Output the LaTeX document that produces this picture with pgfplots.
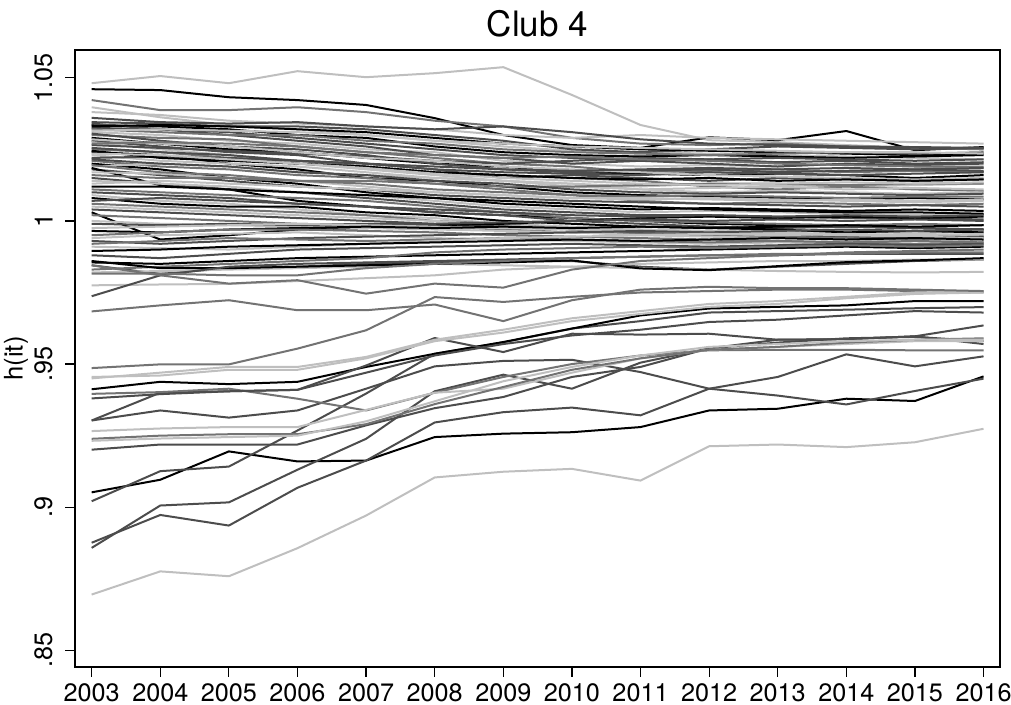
\documentclass[border=0pt]{standalone}
\usepackage{pgfplots}
\usepackage{pgfplotstable}
\pgfplotsset{compat=1.18}
\usepackage{fontspec}
\setmainfont{TeX Gyre Heros}
\definecolor{gdark}{gray}{0.30}
\definecolor{gmid}{gray}{0.45}
\definecolor{glight}{gray}{0.75}
\pgfplotsset{
  sk/.style={color=black},
  sd/.style={color=gdark},
  sm/.style={color=gmid},
  sl/.style={color=glight},
}
\pgfplotstableread[header=has colnames]{
2003 2004 2005 2006 2007 2008 2009 2010 2011 2012 2013 2014 2015 2016
1.0481 1.0506 1.0481 1.0523 1.0502 1.0516 1.0537 1.0440 1.0335 1.0282 1.0275 1.0265 1.0255 1.0250
1.0460 1.0457 1.0432 1.0422 1.0405 1.0359 1.0300 1.0265 1.0255 1.0292 1.0282 1.0314 1.0247 1.0258
1.0422 1.0387 1.0387 1.0397 1.0380 1.0350 1.0330 1.0290 1.0270 1.0265 1.0270 1.0260 1.0255 1.0250
1.0397 1.0362 1.0335 1.0320 1.0300 1.0280 1.0260 1.0245 1.0240 1.0235 1.0230 1.0225 1.0220 1.0215
1.0380 1.0370 1.0350 1.0340 1.0330 1.0320 1.0300 1.0290 1.0300 1.0290 1.0285 1.0280 1.0275 1.0270
1.0360 1.0345 1.0340 1.0345 1.0330 1.0320 1.0330 1.0310 1.0285 1.0270 1.0265 1.0260 1.0258 1.0255
1.0335 1.0330 1.0320 1.0300 1.0290 1.0260 1.0240 1.0230 1.0225 1.0230 1.0225 1.0220 1.0225 1.0230
1.0345 1.0340 1.0330 1.0330 1.0320 1.0300 1.0280 1.0250 1.0240 1.0250 1.0260 1.0255 1.0250 1.0255
1.0325 1.0320 1.0310 1.0290 1.0270 1.0250 1.0230 1.0220 1.0210 1.0215 1.0205 1.0210 1.0200 1.0205
1.0310 1.0300 1.0280 1.0270 1.0250 1.0240 1.0210 1.0200 1.0190 1.0195 1.0190 1.0200 1.0190 1.0185
1.0300 1.0290 1.0285 1.0260 1.0240 1.0220 1.0200 1.0190 1.0170 1.0175 1.0180 1.0170 1.0175 1.0170
1.0290 1.0270 1.0250 1.0240 1.0220 1.0200 1.0190 1.0170 1.0165 1.0160 1.0165 1.0160 1.0150 1.0160
1.0280 1.0260 1.0240 1.0230 1.0200 1.0180 1.0150 1.0160 1.0150 1.0140 1.0150 1.0145 1.0140 1.0145
1.0275 1.0250 1.0230 1.0200 1.0180 1.0160 1.0140 1.0130 1.0120 1.0130 1.0125 1.0120 1.0125 1.0130
1.0265 1.0255 1.0245 1.0235 1.0225 1.0210 1.0200 1.0210 1.0220 1.0215 1.0220 1.0215 1.0210 1.0215
1.0250 1.0240 1.0220 1.0210 1.0190 1.0170 1.0160 1.0150 1.0140 1.0120 1.0110 1.0120 1.0110 1.0105
1.0240 1.0230 1.0200 1.0180 1.0150 1.0140 1.0120 1.0100 1.0090 1.0085 1.0080 1.0075 1.0080 1.0075
1.0230 1.0210 1.0200 1.0190 1.0170 1.0150 1.0140 1.0130 1.0110 1.0100 1.0105 1.0100 1.0095 1.0100
1.0220 1.0225 1.0220 1.0210 1.0200 1.0180 1.0170 1.0165 1.0160 1.0170 1.0165 1.0160 1.0165 1.0170
1.0210 1.0190 1.0180 1.0160 1.0150 1.0130 1.0110 1.0090 1.0070 1.0060 1.0065 1.0060 1.0055 1.0060
1.0200 1.0180 1.0150 1.0130 1.0100 1.0080 1.0060 1.0050 1.0040 1.0045 1.0040 1.0035 1.0040 1.0035
1.0190 1.0200 1.0190 1.0170 1.0160 1.0150 1.0140 1.0120 1.0110 1.0115 1.0120 1.0110 1.0115 1.0110
1.0180 1.0160 1.0140 1.0120 1.0110 1.0090 1.0080 1.0070 1.0065 1.0060 1.0055 1.0050 1.0055 1.0050
1.0185 1.0125 1.0110 1.0070 1.0050 1.0030 1.0020 1.0010 1.0000 0.9990 0.9985 0.9980 0.9975 0.9970
1.0170 1.0165 1.0150 1.0140 1.0120 1.0100 1.0090 1.0080 1.0075 1.0080 1.0075 1.0070 1.0065 1.0070
1.0160 1.0150 1.0150 1.0140 1.0140 1.0130 1.0120 1.0120 1.0125 1.0130 1.0130 1.0125 1.0130 1.0130
1.0150 1.0130 1.0110 1.0100 1.0080 1.0060 1.0040 1.0030 1.0020 1.0020 1.0015 1.0010 1.0010 1.0005
1.0140 1.0130 1.0120 1.0100 1.0090 1.0070 1.0050 1.0040 1.0030 1.0035 1.0030 1.0025 1.0020 1.0025
1.0120 1.0120 1.0110 1.0100 1.0090 1.0080 1.0070 1.0060 1.0050 1.0040 1.0035 1.0030 1.0030 1.0025
1.0110 1.0100 1.0090 1.0080 1.0070 1.0050 1.0030 1.0010 1.0000 0.9995 0.9990 0.9985 0.9990 0.9985
1.0100 1.0090 1.0080 1.0060 1.0050 1.0030 1.0020 1.0000 0.9990 0.9980 0.9975 0.9980 0.9975 0.9970
1.0090 1.0070 1.0060 1.0040 1.0020 1.0010 0.9990 0.9980 0.9970 0.9965 0.9960 0.9965 0.9960 0.9965
1.0080 1.0060 1.0050 1.0050 1.0030 1.0020 1.0000 0.9990 0.9980 0.9975 0.9970 0.9960 0.9965 0.9960
1.0060 1.0050 1.0040 1.0030 1.0020 1.0000 0.9990 0.9970 0.9960 0.9955 0.9950 0.9945 0.9950 0.9945
1.0050 1.0040 1.0030 1.0020 1.0010 1.0000 0.9985 0.9975 0.9970 0.9965 0.9960 0.9950 0.9955 0.9950
1.0040 1.0030 1.0020 1.0010 1.0000 0.9990 0.9980 0.9970 0.9960 0.9955 0.9950 0.9945 0.9940 0.9945
1.0030 0.9935 0.9950 0.9970 0.9975 0.9985 0.9990 1.0000 1.0010 1.0015 1.0010 1.0015 1.0010 1.0015
1.0020 1.0010 1.0000 0.9990 0.9985 0.9980 0.9970 0.9960 0.9955 0.9950 0.9945 0.9940 0.9935 0.9940
1.0000 0.9990 0.9985 0.9980 0.9975 0.9970 0.9965 0.9960 0.9950 0.9945 0.9940 0.9935 0.9930 0.9935
0.9990 0.9985 0.9990 0.9985 0.9990 0.9990 0.9995 1.0000 1.0005 1.0000 1.0005 1.0000 1.0005 1.0000
0.9975 0.9980 0.9985 0.9990 0.9985 0.9980 0.9975 0.9970 0.9965 0.9960 0.9955 0.9950 0.9945 0.9940
0.9965 0.9960 0.9970 0.9975 0.9980 0.9975 0.9980 0.9975 0.9980 0.9975 0.9980 0.9985 0.9980 0.9985
0.9950 0.9960 0.9970 0.9970 0.9965 0.9960 0.9950 0.9945 0.9940 0.9935 0.9930 0.9925 0.9930 0.9925
0.9940 0.9950 0.9955 0.9960 0.9950 0.9940 0.9935 0.9930 0.9925 0.9920 0.9925 0.9920 0.9915 0.9920
0.9930 0.9920 0.9930 0.9940 0.9945 0.9950 0.9955 0.9960 0.9965 0.9960 0.9965 0.9970 0.9965 0.9970
0.9920 0.9930 0.9940 0.9935 0.9930 0.9935 0.9940 0.9935 0.9930 0.9925 0.9930 0.9925 0.9920 0.9925
0.9910 0.9905 0.9900 0.9910 0.9920 0.9930 0.9940 0.9945 0.9950 0.9955 0.9950 0.9955 0.9950 0.9955
0.9895 0.9900 0.9910 0.9915 0.9920 0.9925 0.9930 0.9935 0.9930 0.9935 0.9940 0.9935 0.9940 0.9935
0.9880 0.9870 0.9885 0.9900 0.9905 0.9910 0.9915 0.9920 0.9915 0.9910 0.9915 0.9920 0.9915 0.9920
0.9855 0.9850 0.9860 0.9870 0.9875 0.9880 0.9885 0.9890 0.9895 0.9900 0.9905 0.9910 0.9905 0.9910
0.9845 0.9815 0.9835 0.9840 0.9850 0.9855 0.9860 0.9860 0.9840 0.9830 0.9840 0.9850 0.9860 0.9865
0.9830 0.9840 0.9850 0.9860 0.9870 0.9890 0.9900 0.9905 0.9910 0.9905 0.9910 0.9915 0.9910 0.9915
0.9820 0.9825 0.9830 0.9835 0.9840 0.9850 0.9845 0.9840 0.9835 0.9830 0.9825 0.9822 0.9820 0.9822
0.9775 0.9778 0.9780 0.9790 0.9800 0.9810 0.9830 0.9840 0.9850 0.9855 0.9860 0.9860 0.9865 0.9865
0.9860 0.9835 0.9835 0.9840 0.9845 0.9850 0.9855 0.9862 0.9834 0.9828 0.9842 0.9856 0.9862 0.9870
1.0340 1.0320 1.0300 1.0280 1.0260 1.0230 1.0220 1.0200 1.0210 1.0200 1.0190 1.0200 1.0195 1.0200
1.0330 1.0335 1.0330 1.0320 1.0310 1.0290 1.0270 1.0260 1.0250 1.0245 1.0240 1.0235 1.0230 1.0235
1.0320 1.0310 1.0300 1.0300 1.0280 1.0270 1.0250 1.0240 1.0235 1.0230 1.0235 1.0240 1.0235 1.0240
1.0315 1.0320 1.0315 1.0310 1.0300 1.0280 1.0270 1.0260 1.0255 1.0250 1.0245 1.0240 1.0240 1.0235
1.0305 1.0280 1.0260 1.0250 1.0230 1.0200 1.0180 1.0170 1.0175 1.0180 1.0170 1.0175 1.0180 1.0175
1.0285 1.0270 1.0260 1.0240 1.0220 1.0210 1.0190 1.0180 1.0170 1.0160 1.0155 1.0150 1.0145 1.0150
1.0270 1.0275 1.0270 1.0260 1.0240 1.0230 1.0220 1.0225 1.0215 1.0210 1.0200 1.0195 1.0190 1.0190
1.0255 1.0240 1.0230 1.0210 1.0200 1.0190 1.0180 1.0175 1.0180 1.0185 1.0180 1.0185 1.0180 1.0185
1.0245 1.0220 1.0210 1.0200 1.0190 1.0170 1.0160 1.0150 1.0145 1.0150 1.0140 1.0145 1.0140 1.0145
1.0235 1.0230 1.0215 1.0200 1.0185 1.0165 1.0150 1.0140 1.0130 1.0125 1.0130 1.0135 1.0130 1.0135
1.0215 1.0200 1.0190 1.0170 1.0160 1.0140 1.0130 1.0110 1.0100 1.0095 1.0100 1.0095 1.0090 1.0095
1.0195 1.0170 1.0160 1.0140 1.0130 1.0110 1.0100 1.0090 1.0085 1.0090 1.0085 1.0080 1.0085 1.0085
1.0130 1.0140 1.0130 1.0120 1.0110 1.0100 1.0090 1.0080 1.0080 1.0075 1.0070 1.0075 1.0070 1.0075
1.0070 1.0080 1.0070 1.0060 1.0050 1.0040 1.0030 1.0020 1.0015 1.0020 1.0015 1.0020 1.0015 1.0020
0.8695 0.8776 0.8759 0.8857 0.8971 0.9104 0.9124 0.9134 0.9093 0.9213 0.9219 0.9210 0.9227 0.9274
0.9052 0.9096 0.9195 0.9160 0.9163 0.9245 0.9257 0.9262 0.9280 0.9338 0.9344 0.9379 0.9371 0.9457
0.8858 0.9006 0.9017 0.9131 0.9239 0.9405 0.9463 0.9414 0.9505 0.9555 0.9575 0.9590 0.9595 0.9580
0.8876 0.8973 0.8936 0.9068 0.9163 0.9296 0.9332 0.9348 0.9321 0.9414 0.9455 0.9534 0.9492 0.9527
0.9201 0.9219 0.9219 0.9219 0.9286 0.9346 0.9385 0.9455 0.9490 0.9555 0.9585 0.9587 0.9597 0.9635
0.9021 0.9126 0.9142 0.9268 0.9397 0.9536 0.9576 0.9624 0.9650 0.9680 0.9685 0.9690 0.9695 0.9699
0.9412 0.9438 0.9430 0.9438 0.9490 0.9536 0.9577 0.9624 0.9670 0.9694 0.9700 0.9705 0.9720 0.9720
0.9303 0.9400 0.9405 0.9410 0.9495 0.9591 0.9542 0.9606 0.9603 0.9606 0.9585 0.9587 0.9597 0.9570
0.9303 0.9338 0.9313 0.9338 0.9414 0.9492 0.9511 0.9515 0.9472 0.9414 0.9390 0.9359 0.9406 0.9449
0.9396 0.9402 0.9414 0.9379 0.9338 0.9400 0.9455 0.9500 0.9530 0.9548 0.9550 0.9550 0.9548 0.9548
0.9266 0.9275 0.9280 0.9280 0.9340 0.9400 0.9414 0.9470 0.9520 0.9550 0.9560 0.9570 0.9580 0.9580
0.9239 0.9250 0.9255 0.9255 0.9290 0.9360 0.9420 0.9480 0.9520 0.9550 0.9560 0.9575 0.9585 0.9590
0.9232 0.9240 0.9245 0.9250 0.9300 0.9370 0.9440 0.9490 0.9530 0.9560 0.9570 0.9580 0.9585 0.9585
0.9486 0.9499 0.9499 0.9554 0.9618 0.9734 0.9717 0.9735 0.9750 0.9755 0.9760 0.9760 0.9755 0.9750
0.9455 0.9460 0.9480 0.9480 0.9520 0.9580 0.9610 0.9650 0.9675 0.9700 0.9710 0.9730 0.9745 0.9750
0.9450 0.9470 0.9490 0.9490 0.9525 0.9585 0.9620 0.9660 0.9685 0.9710 0.9720 0.9735 0.9750 0.9755
0.9684 0.9705 0.9723 0.9688 0.9688 0.9708 0.9650 0.9723 0.9760 0.9770 0.9765 0.9765 0.9760 0.9755
0.9737 0.9810 0.9840 0.9850 0.9855 0.9860 0.9865 0.9870 0.9875 0.9880 0.9880 0.9885 0.9885 0.9885
0.9845 0.9810 0.9781 0.9793 0.9746 0.9781 0.9767 0.9830 0.9860 0.9870 0.9880 0.9890 0.9895 0.9900
0.9380 0.9395 0.9405 0.9410 0.9470 0.9530 0.9570 0.9600 0.9620 0.9647 0.9655 0.9670 0.9685 0.9680
0.9816 0.9816 0.9810 0.9810 0.9835 0.9850 0.9860 0.9870 0.9875 0.9880 0.9885 0.9885 0.9890 0.9890
}\rows
\pgfplotstabletranspose\cols\rows
\begin{document}
\begin{tikzpicture}
\begin{axis}[
  scale only axis, width=462.5pt, height=308.5pt,
  xmin=2002.757, xmax=2016.24, ymin=0.8442, ymax=1.0597,
  xtick={2003,2004,2005,2006,2007,2008,2009,2010,2011,2012,2013,2014,2015,2016},
  xticklabels={2003,2004,2005,2006,2007,2008,2009,2010,2011,2012,2013,2014,2015,2016},
  ytick={0.85,0.9,0.95,1,1.05},
  yticklabels={.85,.9,.95,1,1.05},
  xtick pos=bottom, ytick pos=left,
  tick align=outside, major tick length=5pt,
  axis line style={line width=0.6pt},
  tick style={black, line width=0.6pt},
  /pgf/number format/assume math mode=true,
  tick label style={font=\fontsize{12.6}{14}\selectfont, inner sep=0pt},
  xticklabel style={anchor=north},
  yticklabel style={rotate=90, anchor=south},
  xticklabel shift=3.2pt, yticklabel shift=6pt,
  title={Club 4},
  title style={at={(axis description cs:0.5,1)}, anchor=south, inner sep=2pt, yshift=-2pt, font=\fontsize{17.5}{20}\selectfont},
  ylabel={h(it)},
  ylabel style={at={(axis description cs:-0.0638,0.5)}, anchor=center, font=\fontsize{12.8}{14}\selectfont, inner sep=0pt},
  every axis plot/.append style={line width=1pt, no markers, line join=round},
]
\foreach \i/\c in {0/sl,1/sk,2/sm,3/sl,4/sl,5/sd,6/sk,7/sd,8/sd,9/sl,10/sm,11/sk,12/sd,13/sl,14/sd,15/sm,16/sk,17/sl,18/sd,19/sm,20/sk,21/sl,22/sd,23/sk,24/sl,25/sm,26/sd,27/sl,28/sk,29/sm,30/sd,31/sl,32/sk,33/sm,34/sl,35/sd,36/sk,37/sm,38/sl,39/sd,40/sl,41/sk,42/sm,43/sl,44/sd,45/sm,46/sl,47/sk,48/sd,49/sk,50/sd,51/sm,52/sl,53/sl,54/sk,55/sd,56/sk,57/sm,58/sl,59/sd,60/sl,61/sm,62/sd,63/sk,64/sl,65/sd,66/sm,67/sl,68/sd,69/sl,70/sk,71/sd,72/sd,73/sd,74/sd,75/sk,76/sd,77/sd,78/sm,79/sl,80/sm,81/sl,82/sm,83/sl,84/sl,85/sm,86/sd,87/sm,88/sd,89/sm} {
  \edef\tmp{\noexpand\addplot[\c] table[x index=0, y index=\the\numexpr\i+1\relax] {\noexpand\cols};}
  \tmp
}
\end{axis}
\pgfresetboundingbox
\path[use as bounding box] ([shift={(-37.5pt,-19pt)}]current axis.south west) rectangle ([shift={(5.5pt,25pt)}]current axis.north east);
\end{tikzpicture}
\end{document}
